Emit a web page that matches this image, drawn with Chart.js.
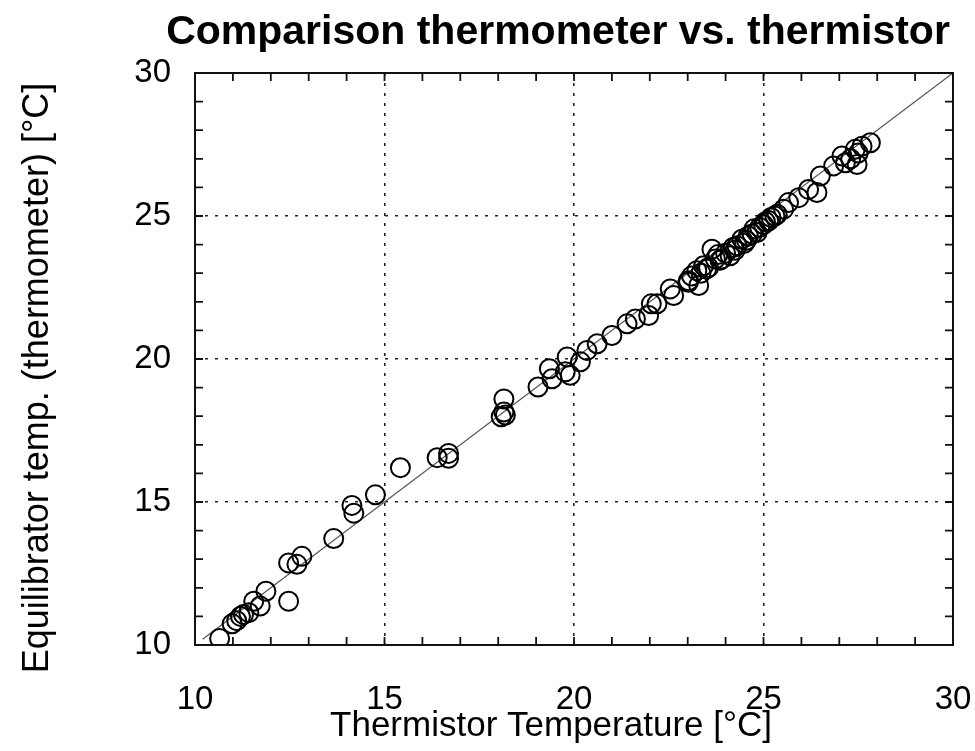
<!DOCTYPE html>
<html>
<head>
<meta charset="utf-8">
<script src="https://cdn.jsdelivr.net/npm/chart.js@4"></script>
<style>
  html, body { margin: 0; padding: 0; background: #fff; }
  canvas { display: block; }
</style>
</head>
<body>
<canvas id="c" width="975" height="751"></canvas>
<script>
// ---- data ----
const chartTitle = "Comparison thermometer vs. thermistor";
const xTitle = "Thermistor Temperature [°C]";
const yTitle = "Equilibrator temp. (thermometer) [°C]";

const thermistorTemp = [
  10.65, 10.98, 11.10, 11.20, 11.28, 11.42, 11.55, 11.72, 11.87, 12.47,
  12.47, 12.69, 12.82, 13.66, 14.14, 14.19, 14.76, 15.42, 16.39, 16.69,
  16.69, 18.15, 18.08, 18.19, 18.15, 19.05, 19.35, 19.42, 19.82, 19.77,
  19.90, 20.17, 20.34, 20.61, 21.00, 21.40, 21.62, 21.97, 22.04, 22.19,
  22.54, 22.63, 23.02, 23.02, 23.29, 23.24, 23.42, 23.35, 23.55, 23.64,
  23.73, 23.90, 23.80, 24.00, 24.12, 24.20, 24.30, 24.43, 24.50, 24.60,
  24.70, 24.83, 24.90, 25.00, 25.14, 25.20, 25.36, 25.53, 25.66, 25.93,
  26.19, 26.41, 26.50, 26.85, 27.07, 27.16, 27.47, 27.42, 27.50, 27.60,
  27.82, 27.30, 23.10, 23.50, 23.85, 24.25, 24.55, 24.75, 25.05, 25.30
];
const equilibratorTemp = [
  10.23, 10.74, 10.85, 11.00, 11.07, 11.13, 11.53, 11.36, 11.88, 11.53,
  12.87, 12.82, 13.10, 13.72, 14.88, 14.61, 15.25, 16.20, 16.55, 16.70,
  16.53, 18.60, 17.98, 18.04, 18.15, 19.02, 19.66, 19.31, 20.07, 19.55,
  19.43, 19.90, 20.30, 20.53, 20.82, 21.23, 21.40, 21.52, 21.93, 21.93,
  22.45, 22.22, 22.74, 22.68, 22.57, 23.09, 23.26, 23.00, 23.20, 23.84,
  23.50, 23.50, 23.65, 23.70, 23.61, 23.90, 23.96, 24.19, 24.05, 24.30,
  24.37, 24.42, 24.60, 24.70, 24.83, 24.95, 25.06, 25.24, 25.47, 25.64,
  25.93, 25.82, 26.40, 26.75, 27.10, 26.86, 26.80, 27.33, 27.20, 27.44,
  27.56, 27.00, 22.90, 23.15, 23.45, 23.80, 24.15, 24.55, 24.80, 25.00
];
const lineX = [10.2, 30];
const lineY = [10.2, 30];

const axisMin = 10, axisMax = 30, majorStep = 5, minorStep = 1;

// ---- build ----
const pts = thermistorTemp.map((x, i) => ({ x: x, y: equilibratorTemp[i] }));
const linePts = lineX.map((x, i) => ({ x: x, y: lineY[i] }));

const FONT = "'Liberation Sans', Arial, Helvetica, sans-serif";

const framePlugin = {
  id: 'frame',
  afterDatasetsDraw(chart) {
    const { ctx, chartArea: a, scales } = chart;
    const xs = scales.x, ys = scales.y;
    ctx.save();
    ctx.strokeStyle = '#111';
    ctx.lineWidth = 1.8;
    const tl = 8;
    ctx.beginPath();
    for (let v = axisMin + minorStep; v < axisMax; v += minorStep) {
      const px = xs.getPixelForValue(v);
      ctx.moveTo(px, a.bottom); ctx.lineTo(px, a.bottom - tl);
      ctx.moveTo(px, a.top); ctx.lineTo(px, a.top + tl);
      const py = ys.getPixelForValue(v);
      ctx.moveTo(a.left, py); ctx.lineTo(a.left + tl, py);
      ctx.moveTo(a.right, py); ctx.lineTo(a.right - tl, py);
    }
    ctx.stroke();
    ctx.lineWidth = 2;
    ctx.strokeRect(a.left, a.top, a.right - a.left, a.bottom - a.top);
    ctx.restore();
  },
  afterDraw(chart) {
    const { ctx } = chart;
    ctx.save();
    ctx.fillStyle = '#000';
    ctx.textAlign = 'center';
    ctx.textBaseline = 'alphabetic';
    ctx.font = "bold 41px " + FONT;
    ctx.fillText(chartTitle, 558, 44);
    ctx.font = "35px " + FONT;
    ctx.fillText(xTitle, 551, 736);
    ctx.translate(48, 378);
    ctx.rotate(-Math.PI / 2);
    ctx.font = "36px " + FONT;
    ctx.fillText(yTitle, 0, 0);
    ctx.restore();
  }
};

const gridColor = (c) => (c.tick && (c.tick.value === axisMin || c.tick.value === axisMax)) ? 'rgba(0,0,0,0)' : '#222';

new Chart(document.getElementById('c'), {
  type: 'scatter',
  data: {
    datasets: [
      {
        label: 'fit',
        data: linePts,
        showLine: true,
        borderColor: '#555',
        borderWidth: 1.2,
        pointRadius: 0,
        fill: false,
        order: 2
      },
      {
        label: 'obs',
        data: pts,
        pointRadius: 9.5,
        pointBorderWidth: 2,
        pointBorderColor: '#000',
        pointBackgroundColor: 'rgba(255,255,255,0)',
        showLine: false,
        order: 1
      }
    ]
  },
  options: {
    responsive: false,
    animation: false,
    layout: { padding: { top: 73, right: 22, bottom: 0, left: 0 } },
    plugins: { legend: { display: false }, tooltip: { enabled: false }, title: { display: false } },
    scales: {
      x: {
        type: 'linear',
        min: axisMin, max: axisMax,
        afterFit(s) { s.height = 106; s.paddingLeft = 0; s.paddingRight = 0; },
        ticks: { stepSize: majorStep, padding: 35, color: '#000', maxRotation: 0,
                 font: { family: FONT, size: 33 } },
        grid: { color: gridColor, lineWidth: 1.6, drawTicks: false },
        border: { display: false, dash: [3, 7] }
      },
      y: {
        type: 'linear',
        min: axisMin, max: axisMax,
        afterFit(s) { s.width = 195; s.paddingTop = 0; s.paddingBottom = 0; },
        ticks: { stepSize: majorStep, padding: 24, color: '#000',
                 font: { family: FONT, size: 33 } },
        grid: { color: gridColor, lineWidth: 1.6, drawTicks: false },
        border: { display: false, dash: [3, 7] }
      }
    }
  },
  plugins: [framePlugin]
});
</script>
</body>
</html>
